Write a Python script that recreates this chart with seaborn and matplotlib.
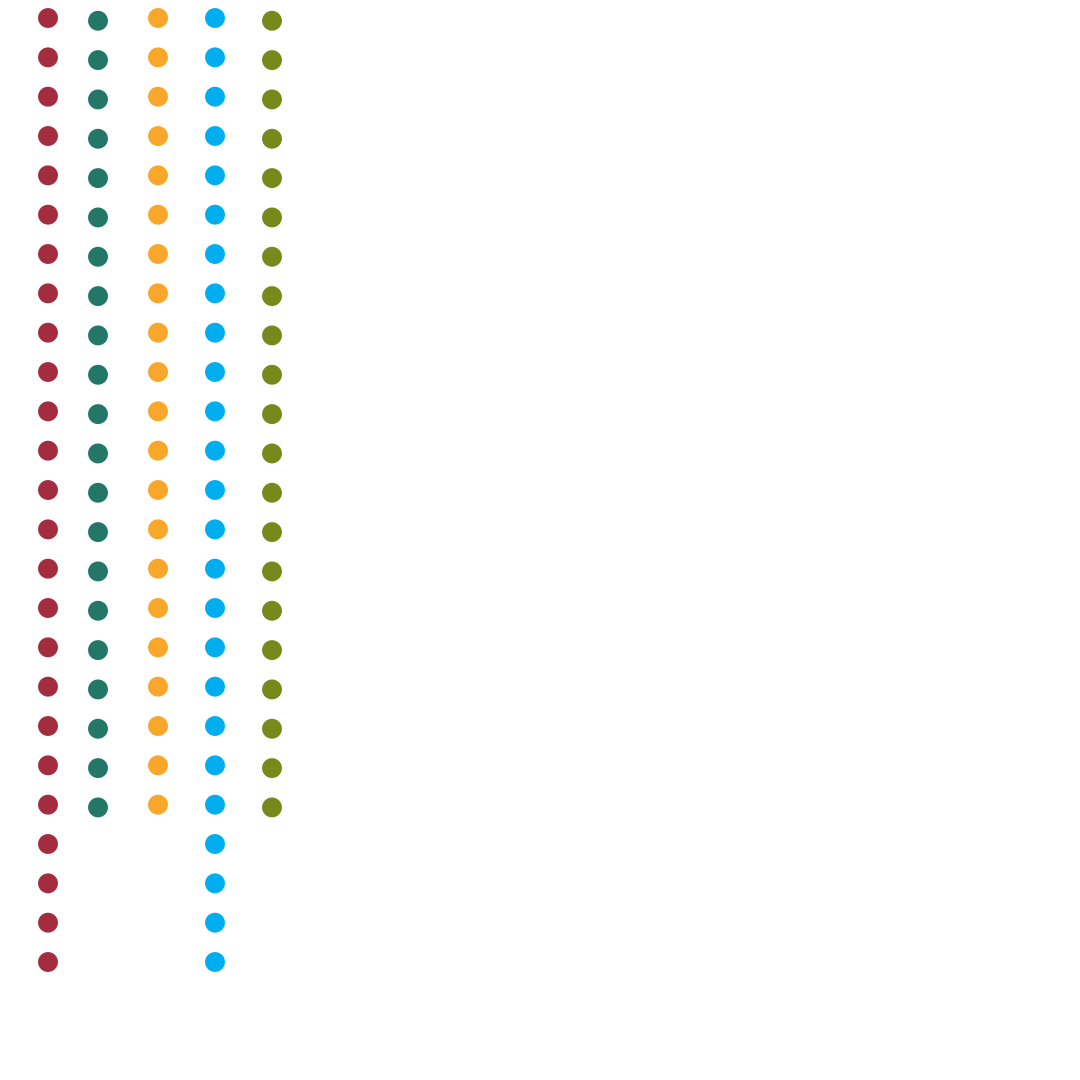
import numpy as np
import pandas as pd
import matplotlib
matplotlib.use("Agg")
import matplotlib.pyplot as plt
import seaborn as sns

# five groups, one column of dots each
groups = ["A", "B", "C", "D", "E"]
counts = [25, 21, 21, 25, 21]
group_value = [0.48, 0.98, 1.58, 2.15, 2.72]
start = [0.0, 0.07, 0.0, 0.0, 0.07]
colors = ["#A32D3F", "#237766", "#F9A72B", "#00AEEF", "#76891A"]

rows = []
for g, n, v, s in zip(groups, counts, group_value, start):
    for i in range(n):
        rows.append({"group": g, "value": v, "row": s + i})
df = pd.DataFrame(rows)

sns.set_style("white")
fig = plt.figure(figsize=(10.8, 10.8), dpi=100)
ax = fig.add_axes([0, 0, 1, 1])
sns.scatterplot(data=df, x="value", y="row", hue="group", palette=colors,
                s=205, linewidth=0, legend=False, ax=ax)
ax.set_xlim(0, 10.8)
ax.set_ylim(27.0, -0.458)
ax.set_axis_off()
fig.savefig("out.png", dpi=100, facecolor="white")
